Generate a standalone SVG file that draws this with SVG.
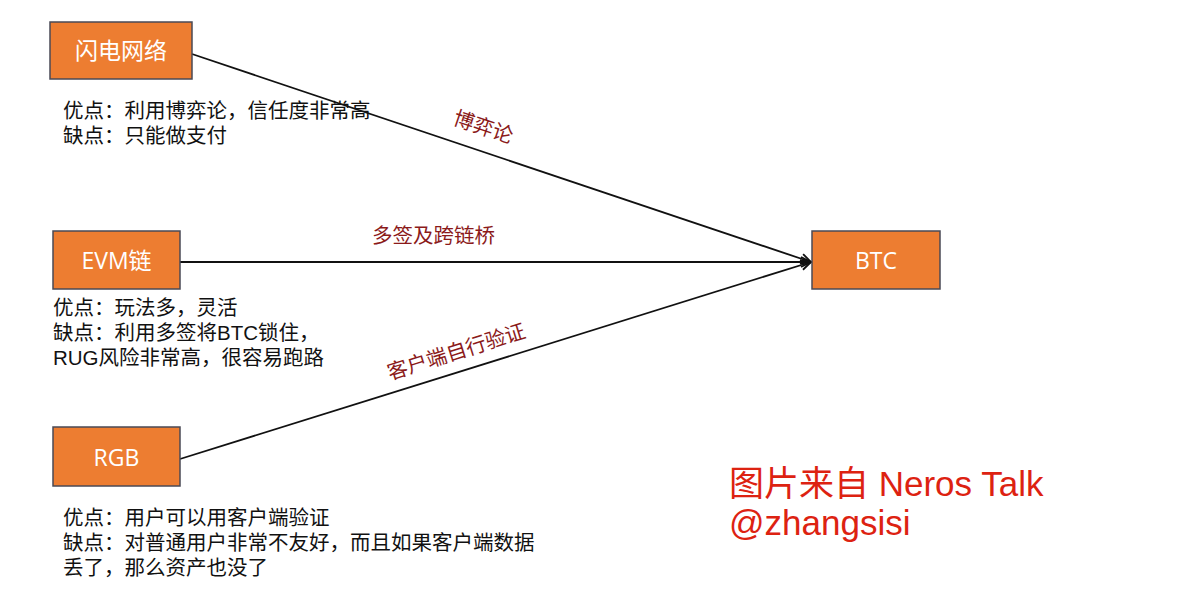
<svg xmlns="http://www.w3.org/2000/svg" width="1200" height="596" viewBox="0 0 1200 596">
<style>
.box{fill:#ED7D31;stroke:#4a4a55;stroke-width:1.5}
.bt{font-family:"Open Sans","Noto Sans CJK SC",sans-serif;font-size:23px;fill:#ffffff;text-anchor:middle}
.note{font-family:"Liberation Sans","Noto Sans CJK SC",sans-serif;font-size:20.5px;fill:#111111}
.lbl{font-family:"Liberation Sans","Noto Sans CJK SC",sans-serif;font-size:20.5px;fill:#8B1A1A}
.wm{font-family:"Liberation Sans","Noto Sans CJK SC",sans-serif;font-size:35px;fill:#DD2211}
.edge{stroke:#111111;stroke-width:1.8;fill:none}
</style>
<defs>
<marker id="arr" viewBox="0 0 12 12" refX="11" refY="6" markerWidth="12" markerHeight="12" markerUnits="userSpaceOnUse" orient="auto">
<path d="M1,1 L11,6 L1,11" fill="none" stroke="#111111" stroke-width="1.8"/>
</marker>
</defs>
<rect width="1200" height="596" fill="#ffffff"/>
<g id="connectors">
<line class="edge" x1="192" y1="54" x2="811" y2="262" marker-end="url(#arr)"/>
<line class="edge" x1="180" y1="262" x2="811" y2="262" marker-end="url(#arr)"/>
<line class="edge" x1="180" y1="459" x2="811" y2="262" marker-end="url(#arr)"/>
<text class="lbl" transform="translate(452,124) rotate(18.6)">博弈论</text>
<text class="lbl" x="372" y="243">多签及跨链桥</text>
<text class="lbl" transform="translate(390,380) rotate(-17.4)">客户端自行验证</text>
</g>
<g id="node-lightning">
<rect class="box" x="50" y="22" width="142" height="57"/>
<text class="bt" x="121" y="59">闪电网络</text>
<text class="note" x="63" y="118">优点：利用博弈论，信任度非常高</text>
<text class="note" x="63" y="143">缺点：只能做支付</text>
</g>
<g id="node-evm">
<rect class="box" x="53" y="231" width="127" height="58"/>
<text class="bt" x="116.5" y="269">EVM链</text>
<text class="note" x="53" y="315">优点：玩法多，灵活</text>
<text class="note" x="53" y="340">缺点：利用多签将BTC锁住，</text>
<text class="note" x="53" y="365">RUG风险非常高，很容易跑路</text>
</g>
<g id="node-rgb">
<rect class="box" x="53" y="427" width="127" height="59"/>
<text class="bt" x="116.5" y="466">RGB</text>
<text class="note" x="63" y="525">优点：用户可以用客户端验证</text>
<text class="note" x="63" y="550">缺点：对普通用户非常不友好，而且如果客户端数据</text>
<text class="note" x="63" y="575">丢了，那么资产也没了</text>
</g>
<g id="node-btc">
<rect class="box" x="812" y="231" width="128" height="58"/>
<text class="bt" x="876" y="269">BTC</text>
</g>
<g id="watermark">
<text class="wm" x="729" y="496">图片来自 Neros Talk</text>
<text class="wm" x="729" y="535">@zhangsisi</text>
</g>
</svg>
